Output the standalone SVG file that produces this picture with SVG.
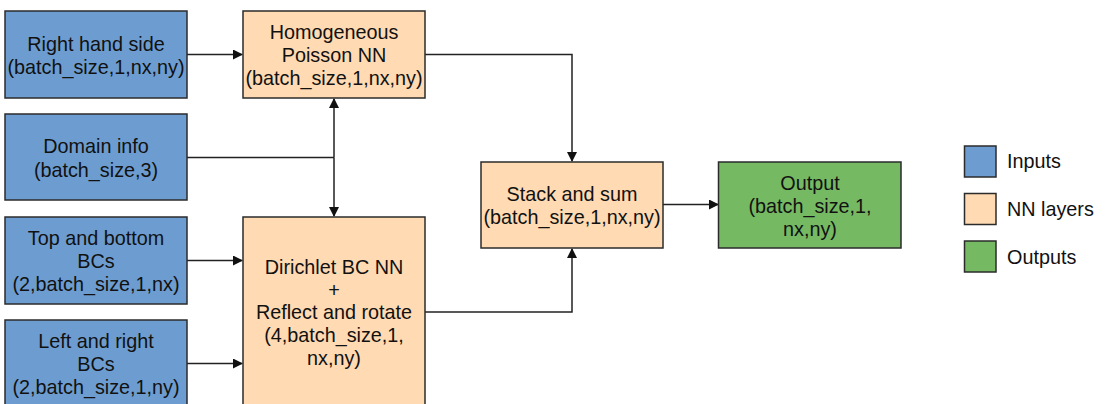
<svg xmlns="http://www.w3.org/2000/svg" width="1106" height="404" viewBox="0 0 1106 404">
<defs>
<marker id="ah" markerWidth="10" markerHeight="10" refX="9" refY="5" orient="auto" markerUnits="userSpaceOnUse">
<path d="M0,0 L10,5 L0,10 Z" fill="#111"/>
</marker>
<style>
.in{fill:#6d9dd0;stroke:#2b2b2b;stroke-width:1.5}
.nn{fill:#ffdab2;stroke:#2b2b2b;stroke-width:1.5}
.out{fill:#76b963;stroke:#2b2b2b;stroke-width:1.5}
text{font-family:"Liberation Sans",Arial,sans-serif;font-size:19.8px;fill:#111}
.c{text-anchor:middle}
.conn{fill:none;stroke:#222;stroke-width:1.5}
</style>
</defs>
<rect width="1106" height="404" fill="#fff"/>
<g id="connectors">
<path class="conn" d="M187,54.5 H242" marker-end="url(#ah)"/>
<path class="conn" d="M187,157.5 H334"/>
<path class="conn" d="M334,157.5 V99" marker-end="url(#ah)"/>
<path class="conn" d="M334,157.5 V216" marker-end="url(#ah)"/>
<path class="conn" d="M425,54.5 H572 V161" marker-end="url(#ah)"/>
<path class="conn" d="M187,260.5 H242" marker-end="url(#ah)"/>
<path class="conn" d="M187,363.5 H242" marker-end="url(#ah)"/>
<path class="conn" d="M425,312 H572 V249" marker-end="url(#ah)"/>
<path class="conn" d="M663,204.5 H718" marker-end="url(#ah)"/>
</g>
<g id="rhs">
<rect class="in" x="5" y="11" width="182" height="87"/>
<text class="c" x="96" y="50.5">Right hand side</text>
<text class="c" x="96" y="74">(batch_size,1,nx,ny)</text>
</g>
<g id="homog">
<rect class="nn" x="243" y="11" width="182" height="87"/>
<text class="c" x="334" y="39">Homogeneous</text>
<text class="c" x="334" y="62">Poisson NN</text>
<text class="c" x="334" y="85">(batch_size,1,nx,ny)</text>
</g>
<g id="domain">
<rect class="in" x="5" y="114" width="182" height="86"/>
<text class="c" x="96" y="153">Domain info</text>
<text class="c" x="96" y="176.5">(batch_size,3)</text>
</g>
<g id="topbottom">
<rect class="in" x="5" y="217" width="182" height="87"/>
<text class="c" x="96" y="245">Top and bottom</text>
<text class="c" x="96" y="268">BCs</text>
<text class="c" x="96" y="291">(2,batch_size,1,nx)</text>
</g>
<g id="leftright">
<rect class="in" x="5" y="320" width="182" height="88"/>
<text class="c" x="96" y="348">Left and right</text>
<text class="c" x="96" y="371">BCs</text>
<text class="c" x="96" y="394">(2,batch_size,1,ny)</text>
</g>
<g id="dirichlet">
<rect class="nn" x="243" y="217" width="182" height="200"/>
<text class="c" x="334" y="274">Dirichlet BC NN</text>
<text class="c" x="334" y="296.5">+</text>
<text class="c" x="334" y="319">Reflect and rotate</text>
<text class="c" x="334" y="342">(4,batch_size,1,</text>
<text class="c" x="334" y="364.5">nx,ny)</text>
</g>
<g id="stack">
<rect class="nn" x="481" y="162" width="182" height="86"/>
<text class="c" x="572" y="201">Stack and sum</text>
<text class="c" x="572" y="224">(batch_size,1,nx,ny)</text>
</g>
<g id="output">
<rect class="out" x="718.5" y="162" width="182.5" height="86"/>
<text class="c" x="810" y="190">Output</text>
<text class="c" x="810" y="213">(batch_size,1,</text>
<text class="c" x="810" y="236">nx,ny)</text>
</g>
<g id="legend">
<rect class="in" x="964.5" y="146" width="31.5" height="31"/>
<text x="1007" y="168">Inputs</text>
<rect class="nn" x="964.5" y="193.5" width="31.5" height="31"/>
<text x="1007" y="216">NN layers</text>
<rect class="out" x="964.5" y="241" width="31.5" height="31"/>
<text x="1007" y="263.5">Outputs</text>
</g>
</svg>
